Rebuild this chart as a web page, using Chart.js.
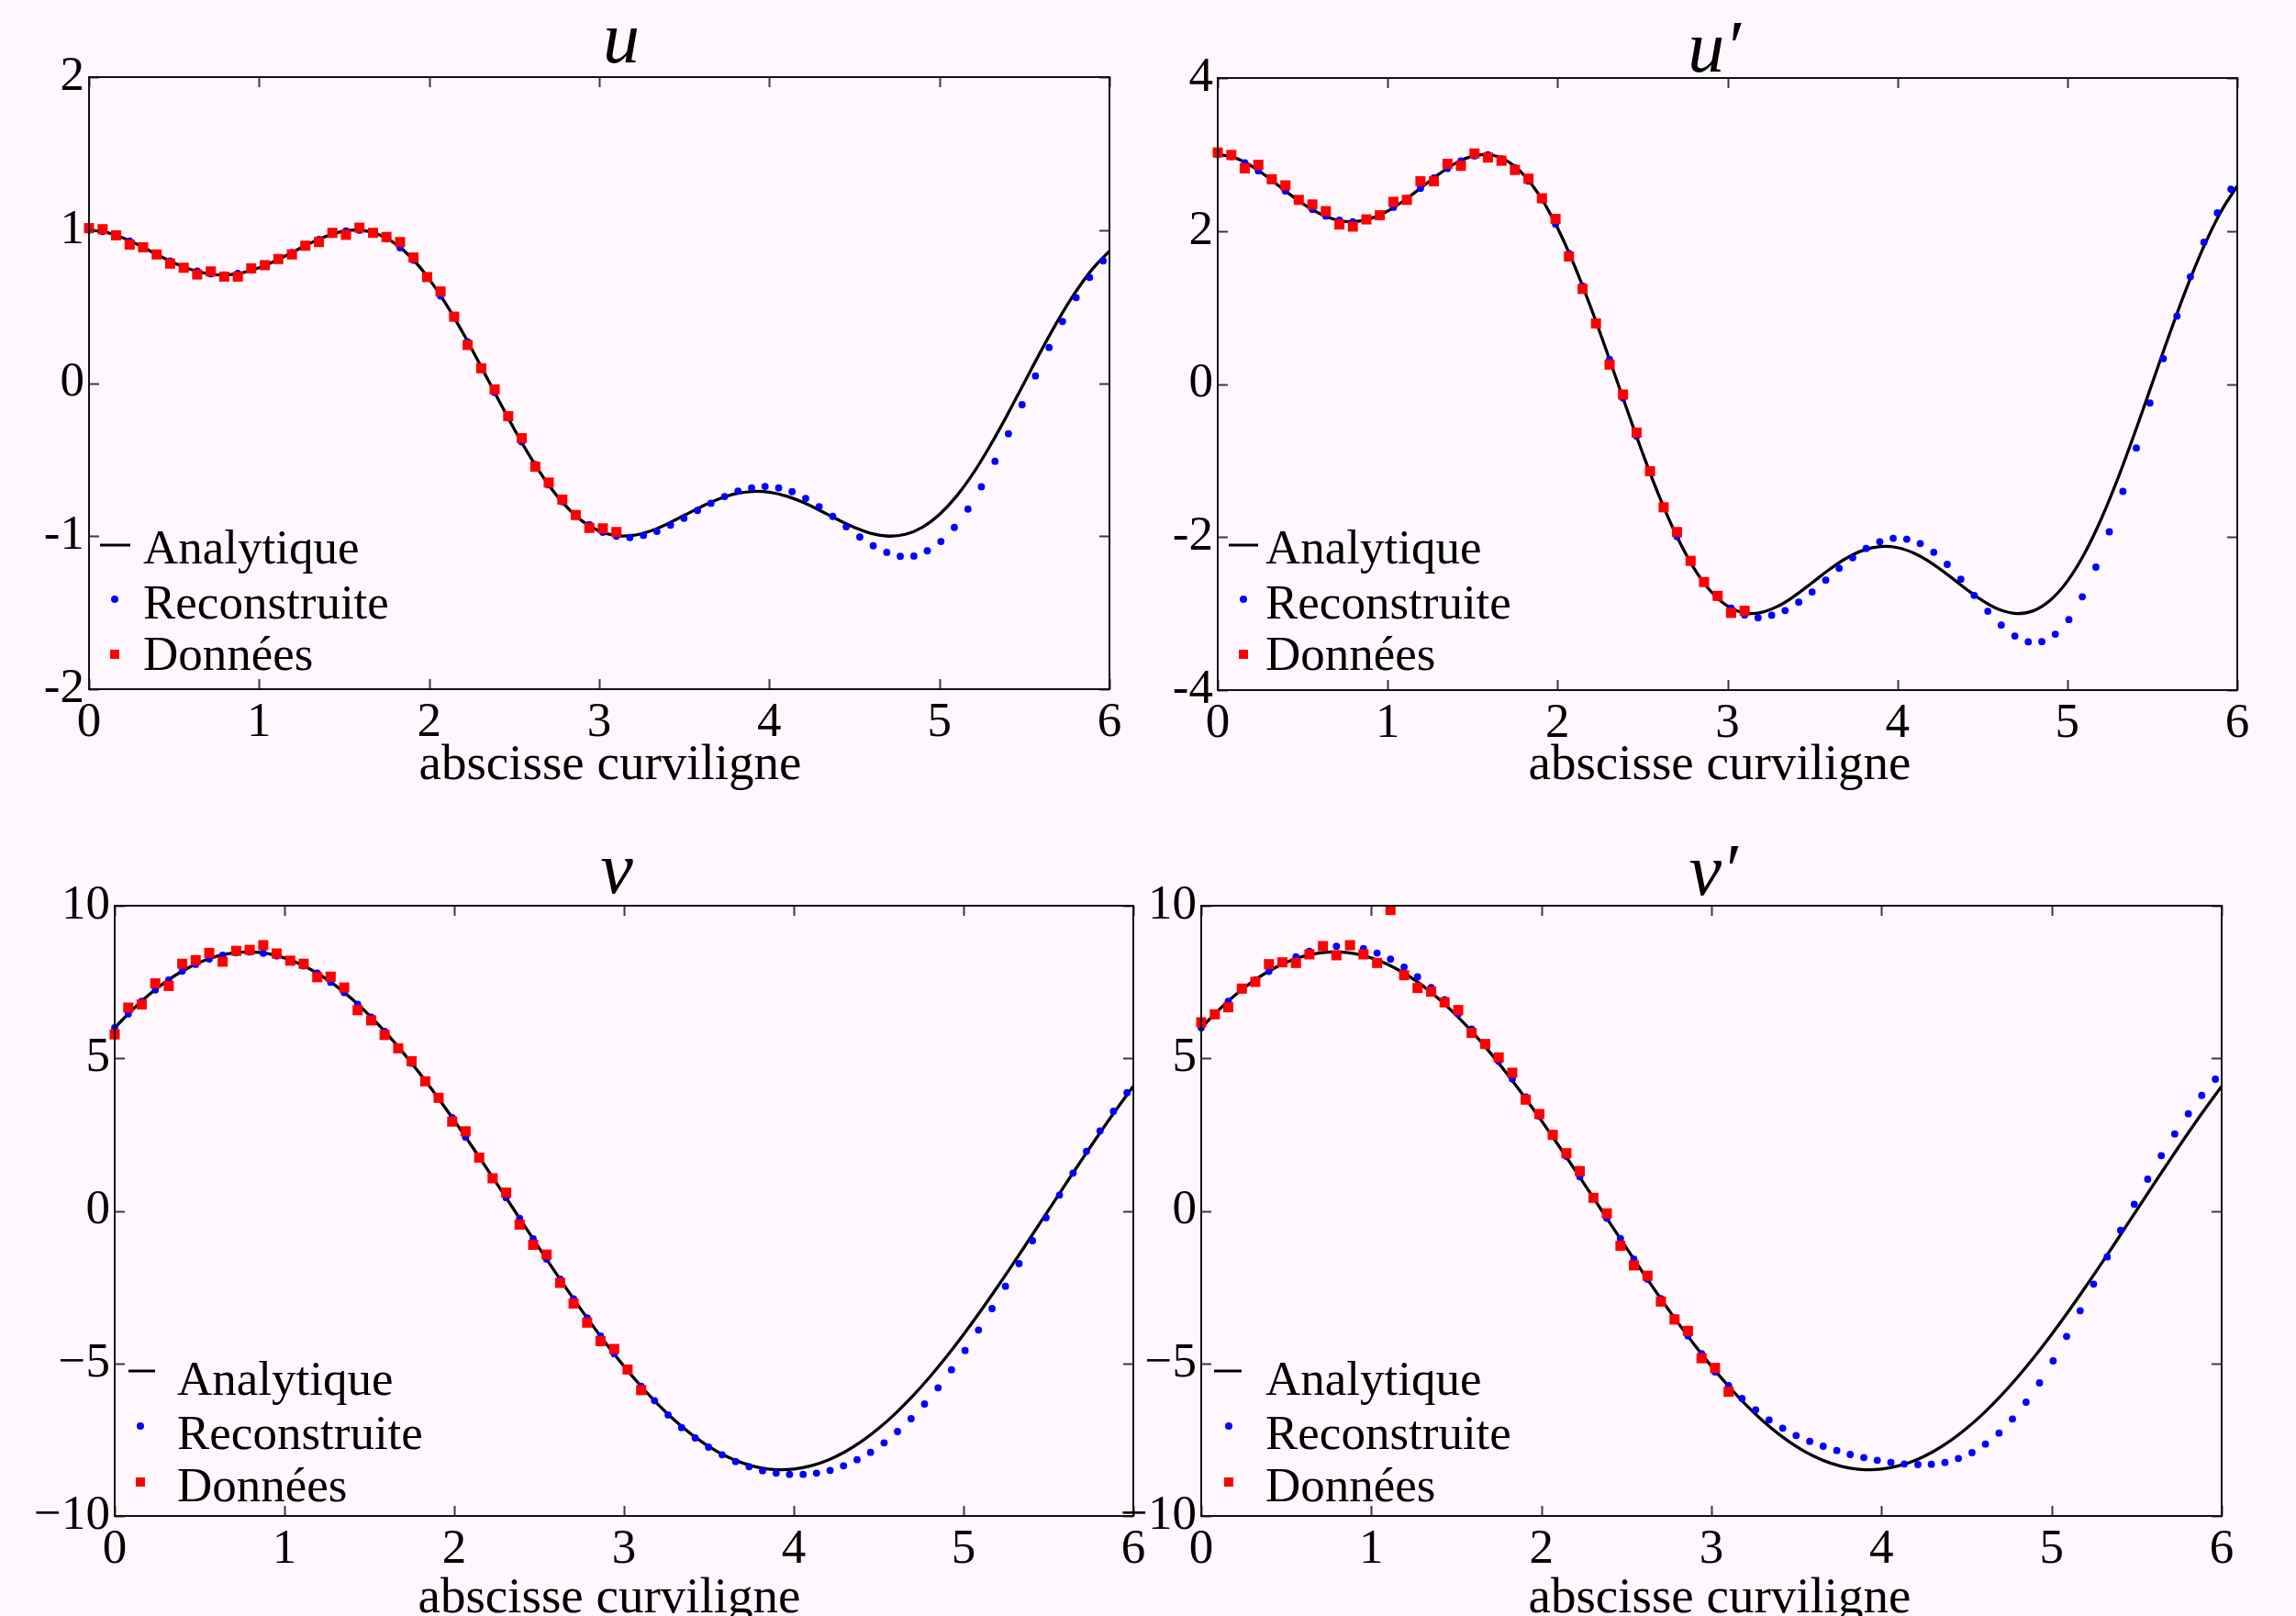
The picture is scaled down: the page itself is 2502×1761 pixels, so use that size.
<!DOCTYPE html>
<html><head><meta charset="utf-8">
<script src="https://cdn.jsdelivr.net/npm/chart.js@4.4.1/dist/chart.umd.min.js"></script>
<style>
html,body{margin:0;padding:0;background:#fef8fe;width:2502px;height:1761px;overflow:hidden;}
canvas{position:absolute;left:0;top:0;}
</style></head><body>
<canvas id="c1" width="2502" height="1761"></canvas>
<canvas id="c2" width="2502" height="1761"></canvas>
<canvas id="c3" width="2502" height="1761"></canvas>
<canvas id="c4" width="2502" height="1761"></canvas>
<script>
// ---------- data ----------
const seriesNames = ['Analytique', 'Reconstruite', 'Données'];
const panelTitles = ['u', 'u\u2032', 'v', 'v\u2032'];
const xAxisLabel = 'abscisse curviligne';
const xTicks = [0, 1, 2, 3, 4, 5, 6];
const yTicksU = [-2, -1, 0, 1, 2];
const yTicksUp = [-4, -2, 0, 2, 4];
const yTicksV = [-10, -5, 0, 5, 10];

// abscissa of the analytic curve
const sLine = [0,0.1,0.2,0.3,0.4,0.5,0.6,0.7,0.8,0.9,1,1.1,1.2,1.3,1.4,1.5,1.6,1.7,1.8,1.9,2,2.1,2.2,2.3,2.4,2.5,2.6,2.7,2.8,2.9,3,3.1,3.2,3.3,3.4,3.5,3.6,3.7,3.8,3.9,4,4.1,4.2,4.3,4.4,4.5,4.6,4.7,4.8,4.9,5,5.1,5.2,5.3,5.4,5.5,5.6,5.7,5.8,5.9,6];
const uLine = [1.000,0.986,0.949,0.898,0.840,0.786,0.742,0.715,0.707,0.721,0.754,0.801,0.857,0.914,0.962,0.993,0.999,0.973,0.912,0.814,0.680,0.515,0.325,0.119,-0.093,-0.300,-0.492,-0.661,-0.799,-0.902,-0.967,-0.997,-0.995,-0.967,-0.920,-0.864,-0.808,-0.759,-0.724,-0.708,-0.713,-0.738,-0.780,-0.833,-0.891,-0.943,-0.983,-1.000,-0.988,-0.942,-0.859,-0.740,-0.587,-0.406,-0.206,0.005,0.215,0.415,0.594,0.746,0.863];
const upLine = [3.000,2.958,2.848,2.693,2.521,2.358,2.227,2.144,2.122,2.163,2.261,2.404,2.572,2.741,2.886,2.979,2.996,2.919,2.736,2.441,2.039,1.544,0.974,0.357,-0.278,-0.900,-1.477,-1.983,-2.397,-2.705,-2.902,-2.992,-2.985,-2.900,-2.761,-2.593,-2.423,-2.276,-2.172,-2.124,-2.138,-2.214,-2.340,-2.500,-2.672,-2.830,-2.948,-2.999,-2.964,-2.825,-2.577,-2.219,-1.760,-1.218,-0.617,0.014,0.645,1.244,1.782,2.237,2.590];
const vLine = [6.000,6.569,7.072,7.505,7.863,8.142,8.340,8.454,8.484,8.430,8.291,8.069,7.766,7.386,6.933,6.409,5.822,5.177,4.480,3.738,2.959,2.150,1.320,0.477,-0.372,-1.216,-2.048,-2.860,-3.643,-4.390,-5.093,-5.745,-6.340,-6.871,-7.334,-7.723,-8.036,-8.268,-8.417,-8.482,-8.463,-8.359,-8.171,-7.902,-7.554,-7.130,-6.635,-6.074,-5.452,-4.776,-4.052,-3.287,-2.490,-1.667,-0.828,0.019,0.866,1.704,2.526,3.322,4.085];
const vpLine = [6.000,6.569,7.072,7.505,7.863,8.142,8.340,8.454,8.484,8.430,8.291,8.069,7.766,7.386,6.933,6.409,5.822,5.177,4.480,3.738,2.959,2.150,1.320,0.477,-0.372,-1.216,-2.048,-2.860,-3.643,-4.390,-5.093,-5.745,-6.340,-6.871,-7.334,-7.723,-8.036,-8.268,-8.417,-8.482,-8.463,-8.359,-8.171,-7.902,-7.554,-7.130,-6.635,-6.074,-5.452,-4.776,-4.052,-3.287,-2.490,-1.667,-0.828,0.019,0.866,1.704,2.526,3.322,4.085];

// abscissa of the reconstructed points (the first 40 are also the data points)
const sDots = [0,0.080,0.159,0.239,0.318,0.398,0.477,0.557,0.636,0.716,0.795,0.875,0.954,1.034,1.113,1.193,1.272,1.352,1.431,1.511,1.590,1.670,1.749,1.829,1.908,1.988,2.067,2.147,2.226,2.306,2.385,2.465,2.544,2.624,2.703,2.783,2.862,2.942,3.021,3.101,3.180,3.260,3.339,3.419,3.498,3.578,3.657,3.737,3.816,3.896,3.975,4.055,4.134,4.214,4.293,4.373,4.452,4.532,4.611,4.691,4.770,4.850,4.929,5.009,5.088,5.168,5.247,5.327,5.406,5.486,5.565,5.645,5.724,5.804,5.883,5.963];
const sData = [0,0.080,0.159,0.239,0.318,0.398,0.477,0.557,0.636,0.716,0.795,0.875,0.954,1.034,1.113,1.193,1.272,1.352,1.431,1.511,1.590,1.670,1.749,1.829,1.908,1.988,2.067,2.147,2.226,2.306,2.385,2.465,2.544,2.624,2.703,2.783,2.862,2.942,3.021,3.101];

const uDots = [1.000,0.991,0.964,0.929,0.888,0.841,0.798,0.761,0.732,0.714,0.707,0.717,0.739,0.770,0.808,0.853,0.898,0.939,0.972,0.994,0.999,0.981,0.943,0.884,0.803,0.697,0.569,0.427,0.271,0.107,-0.061,-0.227,-0.384,-0.532,-0.665,-0.775,-0.863,-0.925,-0.975,-1.000,-1.009,-0.995,-0.969,-0.928,-0.883,-0.832,-0.785,-0.741,-0.705,-0.685,-0.675,-0.685,-0.709,-0.753,-0.807,-0.871,-0.939,-1.006,-1.063,-1.106,-1.132,-1.130,-1.096,-1.035,-0.943,-0.823,-0.677,-0.511,-0.331,-0.141,0.047,0.233,0.403,0.559,0.691,0.799];
const upDots = [3.000,2.973,2.892,2.787,2.664,2.523,2.394,2.283,2.196,2.142,2.121,2.151,2.217,2.310,2.424,2.559,2.694,2.817,2.916,2.982,2.997,2.943,2.829,2.652,2.409,2.091,1.707,1.281,0.813,0.321,-0.183,-0.681,-1.152,-1.596,-1.995,-2.325,-2.589,-2.787,-2.928,-3.018,-3.054,-3.022,-2.960,-2.851,-2.717,-2.563,-2.408,-2.271,-2.149,-2.061,-2.016,-2.028,-2.085,-2.199,-2.357,-2.551,-2.762,-2.969,-3.151,-3.293,-3.370,-3.366,-3.269,-3.078,-2.781,-2.393,-1.931,-1.403,-0.836,-0.248,0.332,0.888,1.402,1.853,2.238,2.546];
const vDots = [6.000,6.452,6.866,7.239,7.569,7.854,8.078,8.254,8.381,8.459,8.484,8.444,8.355,8.217,8.030,7.789,7.492,7.153,6.771,6.347,5.881,5.374,4.836,4.269,3.676,3.056,2.417,1.764,1.101,0.430,-0.245,-0.916,-1.582,-2.239,-2.883,-3.506,-4.106,-4.682,-5.230,-5.748,-6.221,-6.690,-7.104,-7.444,-7.744,-7.995,-8.216,-8.386,-8.517,-8.597,-8.637,-8.637,-8.597,-8.506,-8.356,-8.156,-7.915,-7.604,-7.233,-6.812,-6.331,-5.799,-5.208,-4.577,-3.905,-3.203,-2.472,-1.729,-0.977,-0.226,0.517,1.238,1.950,2.622,3.263,3.874];
const vpDots = [6.00,6.45,6.87,7.24,7.57,7.85,8.11,8.33,8.51,8.63,8.67,8.66,8.60,8.45,8.25,7.99,7.67,7.32,6.92,6.45,5.96,5.44,4.90,4.32,3.73,3.10,2.45,1.79,1.12,0.44,-0.24,-0.91,-1.58,-2.24,-2.88,-3.50,-4.10,-4.68,-5.278,-5.729,-6.150,-6.521,-6.852,-7.123,-7.363,-7.554,-7.714,-7.855,-7.985,-8.085,-8.175,-8.246,-8.296,-8.316,-8.306,-8.246,-8.115,-7.925,-7.645,-7.284,-6.822,-6.271,-5.639,-4.917,-4.115,-3.273,-2.401,-1.509,-0.637,0.216,1.038,1.810,2.521,3.182,3.783,4.316];

const uData = [1.013,1.006,0.966,0.905,0.888,0.841,0.781,0.754,0.710,0.730,0.696,0.696,0.750,0.771,0.811,0.841,0.898,0.922,0.982,0.969,1.016,0.982,0.955,0.922,0.821,0.693,0.599,0.434,0.249,0.097,-0.041,-0.216,-0.360,-0.546,-0.650,-0.761,-0.862,-0.946,-0.949,-0.973];
const upData = [3.027,2.994,2.819,2.865,2.677,2.597,2.407,2.347,2.260,2.085,2.058,2.152,2.206,2.381,2.407,2.650,2.650,2.879,2.852,3.014,2.960,2.919,2.798,2.684,2.428,2.159,1.667,1.243,0.792,0.254,-0.137,-0.634,-1.139,-1.611,-1.934,-2.311,-2.587,-2.768,-2.991,-2.964];
const vData = [5.783,6.662,6.764,7.456,7.371,8.099,8.216,8.454,8.165,8.521,8.554,8.707,8.436,8.199,8.099,7.657,7.675,7.320,6.577,6.241,5.765,5.326,4.905,4.246,3.705,2.926,2.607,1.744,1.068,0.596,-0.451,-1.113,-1.432,-2.361,-3.038,-3.663,-4.271,-4.526,-5.200,-5.877];
const vpData = [6.180,6.441,6.671,7.284,7.504,8.085,8.145,8.125,8.406,8.677,8.376,8.707,8.406,8.125,9.860,7.724,7.303,7.183,6.832,6.581,5.830,5.469,5.028,4.526,3.644,3.173,2.491,1.889,1.305,0.427,-0.081,-1.146,-1.787,-2.127,-2.972,-3.561,-3.934,-4.830,-5.149,-5.929];

// ---------- drawing ----------
Chart.defaults.font.family = '"Liberation Serif", "Times New Roman", serif';
Chart.defaults.color = '#000';
const W = 2502, H = 1761, YW = 95, XH = 70;
const FONT = '"Liberation Serif", "Times New Roman", serif';

function pts(xs, ys) { return ys.map((v, i) => ({x: xs[i], y: v})); }

const framePlugin = {
  id: 'frame',
  afterDraw(chart, args, o) {
    const {ctx, chartArea: a} = chart;
    const x = chart.scales.x, y = chart.scales.y;
    ctx.save();
    // inward ticks on all four sides
    ctx.strokeStyle = '#3a3a3a'; ctx.lineWidth = 2;
    const TL = 11;
    ctx.beginPath();
    x.ticks.forEach(t => { const p = Math.round(x.getPixelForValue(t.value)) + 0.5;
      ctx.moveTo(p, a.bottom); ctx.lineTo(p, a.bottom - TL);
      ctx.moveTo(p, a.top); ctx.lineTo(p, a.top + TL); });
    y.ticks.forEach(t => { const p = Math.round(y.getPixelForValue(t.value)) + 0.5;
      ctx.moveTo(a.left, p); ctx.lineTo(a.left + TL, p);
      ctx.moveTo(a.right, p); ctx.lineTo(a.right - TL, p); });
    ctx.stroke();
    // box
    ctx.strokeStyle = '#111'; ctx.lineWidth = 2;
    ctx.strokeRect(a.left, a.top, a.right - a.left, a.bottom - a.top);
    // title
    ctx.fillStyle = '#000';
    ctx.textAlign = 'center'; ctx.textBaseline = 'alphabetic';
    ctx.font = 'italic 80px ' + FONT;
    ctx.fillText(o.title, o.titleX, o.titleY);
    // x label
    ctx.font = '55px ' + FONT;
    ctx.fillText(xAxisLabel, o.xlabX, o.xlabY);
    // legend
    const ds = chart.data.datasets;
    const byName = n => ds.find(d => d.label === n);
    ctx.textAlign = 'left';
    const L = o.legend;
    const dl = byName(seriesNames[0]);
    ctx.strokeStyle = dl.borderColor; ctx.lineWidth = 3;
    ctx.beginPath(); ctx.moveTo(L.lx1, L.ly[0]); ctx.lineTo(L.lx2, L.ly[0]); ctx.stroke();
    const dd = byName(seriesNames[1]);
    ctx.fillStyle = dd.pointBackgroundColor;
    ctx.beginPath(); ctx.arc(L.mx, L.ly[1], 4, 0, Math.PI * 2); ctx.fill();
    const dq = byName(seriesNames[2]);
    ctx.fillStyle = dq.pointBackgroundColor;
    ctx.fillRect(L.mx - 5, L.ly[2] - 5, 10, 10);
    ctx.fillStyle = '#000';
    ctx.font = '53px ' + FONT;
    seriesNames.forEach((n, i) => ctx.fillText(n, L.tx, L.ty[i]));
    ctx.restore();
  }
};

function makePanel(id, box, yTicks, line, dots, data, minusChar, frame) {
  const ymin = yTicks[0], ymax = yTicks[yTicks.length - 1];
  new Chart(document.getElementById(id), {
    type: 'scatter',
    data: { datasets: [
      { label: seriesNames[2], data: pts(sData, data), showLine: false, pointStyle: 'rect',
        pointRadius: 7.8, pointBackgroundColor: '#ff0000', pointBorderWidth: 0, order: 0, clip: false },
      { label: seriesNames[1], data: pts(sDots, dots), showLine: false, pointStyle: 'circle',
        pointRadius: 3.9, pointBackgroundColor: '#0000ff', pointBorderWidth: 0, order: 1, clip: false },
      { label: seriesNames[0], data: pts(sLine, line), showLine: true, pointRadius: 0,
        borderColor: '#000000', borderWidth: 3.3, tension: 0.4, order: 2 }
    ]},
    options: {
      responsive: false, animation: false, devicePixelRatio: 1,
      events: [],
      layout: { padding: { left: box.L - YW, right: W - box.R, top: box.T, bottom: H - box.B - XH } },
      plugins: { legend: { display: false }, tooltip: { enabled: false }, frame: frame },
      scales: {
        x: { type: 'linear', min: xTicks[0], max: xTicks[xTicks.length - 1],
          afterBuildTicks: s => { s.ticks = xTicks.map(v => ({value: v})); },
          ticks: { autoSkip: false, maxRotation: 0, padding: 5, color: '#000',
            font: { family: FONT, size: 53, lineHeight: 1.2 } },
          grid: { display: false, drawTicks: false }, border: { display: false },
          afterFit: s => { s.height = XH; } },
        y: { type: 'linear', min: ymin, max: ymax,
          afterBuildTicks: s => { s.ticks = yTicks.map(v => ({value: v})); },
          ticks: { autoSkip: false, padding: 5, color: '#000',
            font: { family: FONT, size: 53, lineHeight: 1.2 },
            callback: v => (v < 0 ? minusChar + Math.abs(v) : String(v)) },
          grid: { display: false, drawTicks: false }, border: { display: false },
          afterFit: s => { s.width = YW; } }
      }
    },
    plugins: [framePlugin]
  });
}

const legTop = (lx1, lx2, mx, tx) => ({ lx1, lx2, mx, tx, ly: [594, 653, 713], ty: [614, 674, 730] });
const legBot = (lx1, lx2, mx, tx) => ({ lx1, lx2, mx, tx, ly: [1494, 1554, 1615], ty: [1520, 1579, 1636] });

makePanel('c1', {L: 97, R: 1209, T: 84, B: 751}, yTicksU, uLine, uDots, uData, '-',
  { title: panelTitles[0], titleX: 677, titleY: 68, xlabX: 665, xlabY: 849, legend: legTop(109, 142, 125, 156) });
makePanel('c2', {L: 1327, R: 2438, T: 85, B: 752}, yTicksUp, upLine, upDots, upData, '-',
  { title: panelTitles[1], titleX: 1868, titleY: 78, xlabX: 1874, xlabY: 849, legend: legTop(1339, 1371, 1355, 1379) });
makePanel('c3', {L: 125, R: 1235, T: 987, B: 1652}, yTicksV, vLine, vDots, vData, '\u2212',
  { title: panelTitles[2], titleX: 672, titleY: 973, xlabX: 664, xlabY: 1757, legend: legBot(140, 169, 153, 193) });
makePanel('c4', {L: 1309, R: 2421, T: 987, B: 1652}, yTicksV, vpLine, vpDots, vpData, '\u2212',
  { title: panelTitles[3], titleX: 1867, titleY: 975, xlabX: 1874, xlabY: 1757, legend: legBot(1323, 1353, 1339, 1379) });
</script>
</body></html>
